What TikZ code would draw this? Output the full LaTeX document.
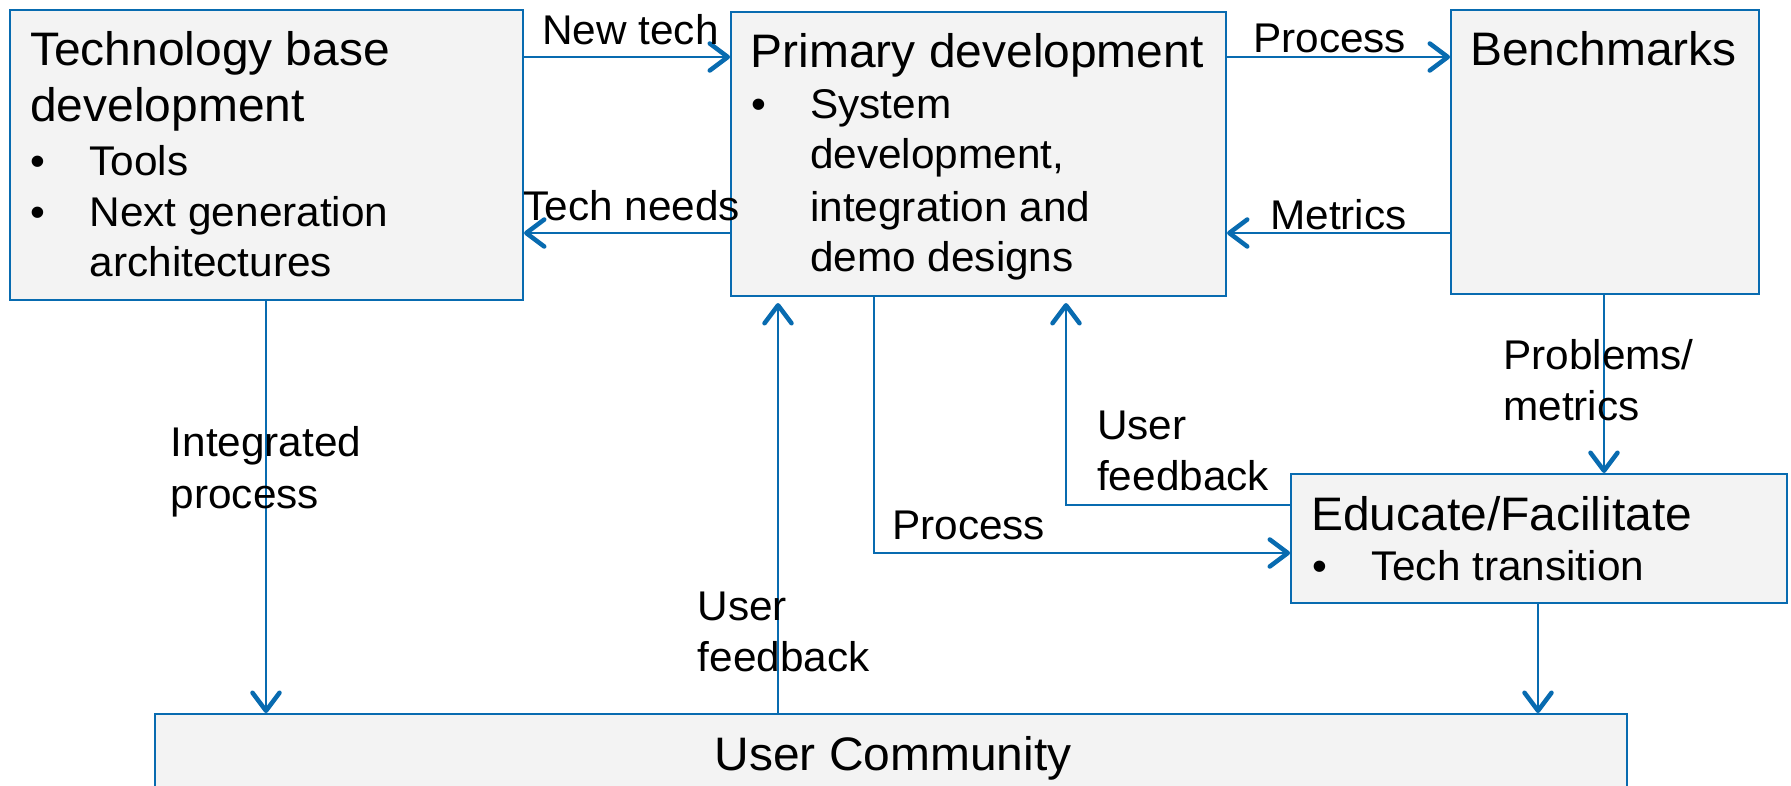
\documentclass[tikz,border=0pt]{standalone}
\usepackage{fontspec}
\setmainfont[FakeStretch=1.02]{Liberation Sans}
\usetikzlibrary{arrows.meta,calc}

\definecolor{edgeblue}{RGB}{8,107,176}
\definecolor{boxfill}{RGB}{243,243,243}

\tikzset{
  box/.style={draw=edgeblue, fill=boxfill, line width=2pt, inner sep=0pt},
  conn/.style={draw=edgeblue, line width=1.7pt,
    -{Straight Barb[length=18pt,width=27pt,line width=4.5pt,round]}},
  ttl/.style={anchor=base west, inner sep=0pt, font=\fontsize{47}{56}\selectfont},
  txt/.style={anchor=base west, inner sep=0pt, font=\fontsize{41.5}{50}\selectfont},
}

\begin{document}
\begin{tikzpicture}[x=1pt, y=-1pt]
  \clip (0,0) rectangle (1791,785);
  \fill[white] (0,0) rectangle (1791,785);

  % boxes
  \node[box, minimum width=513pt, minimum height=290pt, anchor=north west] (tb) at (9,9) {};
  \node[box, minimum width=495pt, minimum height=284pt, anchor=north west] (prim) at (730,11) {};
  \node[box, minimum width=308pt, minimum height=284pt, anchor=north west] (bench) at (1450,9) {};
  \node[box, minimum width=496pt, minimum height=129pt, anchor=north west] (edu) at (1290,473) {};
  \node[box, minimum width=1472pt, minimum height=140pt, anchor=north west] (uc) at (154,713) {};

  % box texts
  \node[ttl] (tbt1) at (30,65.7) {Technology base};
  \node[ttl] (tbt2) at (30,121.7) {development};
  \node[txt] (tbb1) at (30,175) {•};
  \node[txt] (tbi1) at (89.5,175) {Tools};
  \node[txt] (tbb2) at (30,226.7) {•};
  \node[txt] (tbi2) at (89.5,226.7) {Next generation};
  \node[txt] (tbi3) at (89.5,276) {architectures};

  \node[ttl] (prt) at (750.5,67.7) {Primary development};
  \node[txt] (prb) at (751,118.3) {•};
  \node[txt] (pri1) at (810,118.3) {System};
  \node[txt] (pri2) at (810,168.3) {development,};
  \node[txt] (pri3) at (810,221.7) {integration and};
  \node[txt] (pri4) at (810,271.7) {demo designs};

  \node[ttl] (bet) at (1470,65) {Benchmarks};

  \node[ttl] (edt) at (1311,530) {Educate/Facilitate};
  \node[txt] (edb) at (1312,580) {•};
  \node[txt] (edi) at (1371,580) {Tech transition};

  \node[ttl] (uct) at (714.5,770) {User Community};

  % connector rows and columns
  \coordinate (rowA) at (0,57);
  \coordinate (rowB) at (0,233);
  \coordinate (rowC) at (0,505);
  \coordinate (rowD) at (0,553);
  \coordinate (colA) at (266,0);
  \coordinate (colB) at (778,0);
  \coordinate (colC) at (874,0);
  \coordinate (colD) at (1066,0);
  \coordinate (colE) at (1538,0);
  \coordinate (colF) at (1604,0);

  % connectors
  \draw[conn] (tb.east |- rowA) -- (prim.west |- rowA);
  \draw[conn] (prim.west |- rowB) -- (tb.east |- rowB);
  \draw[conn] (prim.east |- rowA) -- (bench.west |- rowA);
  \draw[conn] (bench.west |- rowB) -- (prim.east |- rowB);
  \draw[conn] (tb.south -| colA) -- (uc.north -| colA);
  \draw[conn] (uc.north -| colB) -- ([yshift=-6pt]prim.south -| colB);
  \draw[conn] (prim.south -| colC) |- (edu.west |- rowD);
  \draw[conn] (edu.west |- rowC) -| ([yshift=-6pt]prim.south -| colD);
  \draw[conn] (bench.south -| colF) -- (edu.north -| colF);
  \draw[conn] (edu.south -| colE) -- (uc.north -| colE);

  % connector labels
  \node[txt] (l1) at (542,44) {New tech};
  \node[txt] (l2) at (523.5,220) {Tech needs};
  \node[txt] (l3) at (1253,52.7) {Process};
  \node[txt] (l4) at (1270,229.3) {Metrics};
  \node[txt] (l5a) at (170.5,456.7) {Integrated};
  \node[txt] (l5b) at (170.5,508.3) {process};
  \node[txt] (l6a) at (697.5,620.7) {User};
  \node[txt] (l6b) at (697.5,671) {feedback};
  \node[txt] (l7a) at (1097,439) {User};
  \node[txt] (l7b) at (1097,490) {feedback};
  \node[txt] (l8) at (892,539.3) {Process};
  \node[txt] (l9a) at (1503,369.3) {Problems/};
  \node[txt] (l9b) at (1503,420) {metrics};
\end{tikzpicture}
\end{document}
